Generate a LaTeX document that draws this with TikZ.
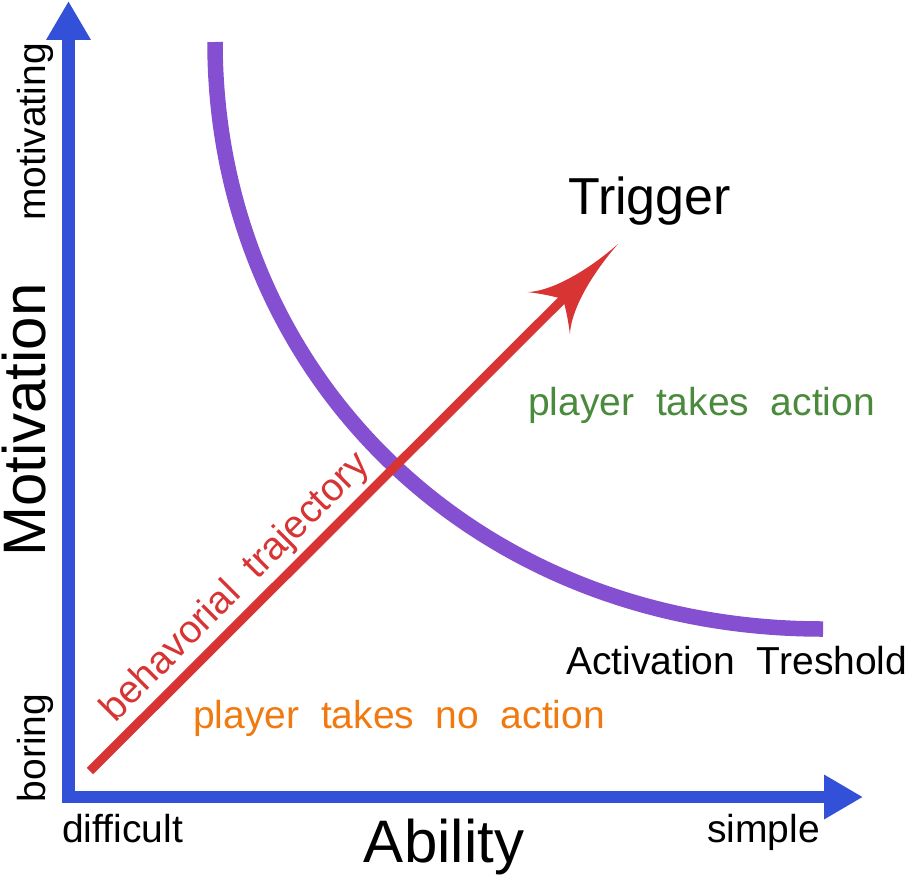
\documentclass[tikz,border=0pt]{standalone}
\usepackage{fontspec}
\setmainfont{Liberation Sans}[WordSpace=2]
\usetikzlibrary{arrows.meta}
\definecolor{axisblue}{RGB}{50,80,216}
\definecolor{threshpurple}{RGB}{132,79,208}
\definecolor{trajred}{RGB}{216,52,52}
\definecolor{actiongreen}{RGB}{74,138,60}
\definecolor{noactionorange}{RGB}{240,122,16}
\begin{document}
\begin{tikzpicture}[x=1pt, y=-1pt,
    axis/.style={draw=axisblue, line width=12.5pt, -{Triangle[length=39pt,width=42pt]}},
    ticklabel/.style={inner sep=0pt, font=\fontsize{39}{47}\selectfont},
    titlelabel/.style={inner sep=0pt, font=\fontsize{60}{72}\selectfont}]
    \useasboundingbox (0,0) rectangle (909,875);

    \coordinate (ybot) at (68.5,803);
    \coordinate (ytop) at (68.5,1);
    \coordinate (xleft) at (62,797);
    \coordinate (xright) at (863,797);
    \coordinate (thtop) at (215,42);
    \coordinate (thend) at (823,629);
    \coordinate (start) at (90,771);
    \coordinate (tip) at (618,244);

    \draw[axis] (ybot) -- (ytop);
    \draw[axis] (xleft) -- (xright);

    \draw[threshpurple, line width=15.5pt] (thtop) .. controls (215,370) and (470,629) .. (thend);

    \draw[trajred, line width=9pt, shorten >=76pt] (start) -- (tip);
    \fill[trajred, shift={(tip)}, rotate=45] (0,0) .. controls (-45,3) and (-82,15) .. (-98,30)
        .. controls (-90,20) and (-82,8) .. (-78,0)
        .. controls (-82,-8) and (-90,-20) .. (-98,-30)
        .. controls (-82,-15) and (-45,-3) .. (0,0) -- cycle;

    \node[titlelabel, anchor=base, rotate=90] (motivation) at (45,420) {Motivation};
    \node[ticklabel, anchor=base, rotate=90] (motivating) at (45,132) {motivating};
    \node[ticklabel, anchor=base, rotate=90] (boring) at (45,748) {boring};
    \node[titlelabel, anchor=base] (ability) at (444,862) {Ability};
    \node[ticklabel, anchor=base west] (difficult) at (62,842) {difficult};
    \node[ticklabel, anchor=base west] (simple) at (707,842) {simple};
    \node[inner sep=0pt, anchor=base west, font=\fontsize{52}{62}\selectfont] (trigger) at (568,214) {Trigger};
    \node[ticklabel, anchor=base west, text=actiongreen] (action) at (528,415) {player takes action};
    \node[ticklabel, anchor=base west] (treshold) at (566,674) {Activation Treshold};
    \node[ticklabel, anchor=base west, text=noactionorange] (noaction) at (193,728) {player takes no action};
    \node[ticklabel, anchor=base, rotate=45, text=trajred] (trajectory) at (243,595) {behavorial trajectory};
\end{tikzpicture}
\end{document}
